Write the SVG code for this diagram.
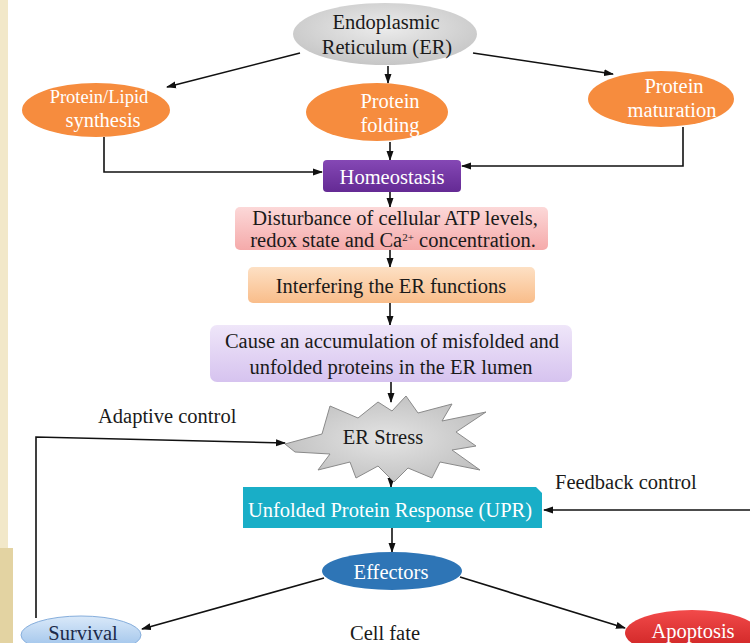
<svg xmlns="http://www.w3.org/2000/svg" width="750" height="643" viewBox="0 0 750 643">
<defs>
<radialGradient id="gGray" cx="0.5" cy="0.4" r="0.6"><stop offset="0" stop-color="#ececec"/><stop offset="1" stop-color="#c6c6c6"/></radialGradient>
<radialGradient id="gStar" cx="0.5" cy="0.5" r="0.6"><stop offset="0" stop-color="#e4e4e4"/><stop offset="1" stop-color="#bdbdbd"/></radialGradient>
<linearGradient id="gPurple" x1="0" y1="0" x2="0" y2="1"><stop offset="0" stop-color="#8548b5"/><stop offset="1" stop-color="#642a94"/></linearGradient>
<linearGradient id="gPink" x1="0" y1="0" x2="0" y2="1"><stop offset="0" stop-color="#fcd8d8"/><stop offset="1" stop-color="#f5aaaa"/></linearGradient>
<linearGradient id="gPeach" x1="0" y1="0" x2="0" y2="1"><stop offset="0" stop-color="#fde0c4"/><stop offset="1" stop-color="#f9bd8a"/></linearGradient>
<linearGradient id="gLav" x1="0" y1="0" x2="0" y2="1"><stop offset="0" stop-color="#efe6f9"/><stop offset="1" stop-color="#d6c3ef"/></linearGradient>
<linearGradient id="gSurv" x1="0" y1="0" x2="0" y2="1"><stop offset="0" stop-color="#dae9f9"/><stop offset="1" stop-color="#95bde8"/></linearGradient>
<linearGradient id="gApo" x1="0" y1="0" x2="0" y2="1"><stop offset="0" stop-color="#f24a4a"/><stop offset="1" stop-color="#c91f1f"/></linearGradient>
<marker id="arr" markerUnits="userSpaceOnUse" markerWidth="10" markerHeight="8" refX="9" refY="4" orient="auto"><path d="M0,0.5 L10,4 L0,7.5 z" fill="#111"/></marker>
<style>
.t{font-family:"Liberation Serif","Times New Roman",serif;font-size:20.5px;text-anchor:middle;fill:#1a1a1a}
.w{fill:#ffffff}
.l{text-anchor:start}
.c{fill:none;stroke:#111;stroke-width:1.6;marker-end:url(#arr)}
.o{fill:#f68c3e}
</style>
</defs>
<rect width="750" height="643" fill="#ffffff"/>
<rect x="0" y="0" width="8" height="643" fill="#f2e8c9"/>
<rect x="0" y="548" width="13" height="95" fill="#e3d3a2"/>

<g id="connectors">
<line class="c" x1="300" y1="53" x2="167" y2="87"/>
<line class="c" x1="473" y1="53" x2="613" y2="74"/>
<line class="c" x1="388" y1="66" x2="388" y2="83"/>
<polyline class="c" points="104,137 104,172 322,172"/>
<polyline class="c" points="683,127 683,166 462,166"/>
<line class="c" x1="390" y1="142" x2="390" y2="160"/>
<line class="c" x1="390" y1="192" x2="390" y2="207"/>
<line class="c" x1="390" y1="250" x2="390" y2="267"/>
<line class="c" x1="390" y1="303" x2="390" y2="325"/>
<line class="c" x1="391" y1="382" x2="391" y2="402"/>
<line class="c" x1="391" y1="474" x2="391" y2="487"/>
<line class="c" x1="392" y1="528" x2="392" y2="552"/>
<line class="c" x1="750" y1="510" x2="544" y2="510"/>
<line class="c" x1="324" y1="578" x2="142" y2="629"/>
<line class="c" x1="460" y1="577" x2="625" y2="628"/>
<polyline class="c" points="36,618 36,437 285,443"/>
</g>

<g id="er">
<ellipse cx="385" cy="34" rx="92" ry="31" fill="url(#gGray)"/>
<text class="t" x="386" y="29">Endoplasmic</text>
<text class="t" x="387" y="54">Reticulum (ER)</text>
</g>
<g id="synthesis">
<ellipse class="o" cx="96" cy="110" rx="74" ry="27"/>
<text class="t w" x="99" y="103" style="font-size:18.5px">Protein/Lipid</text>
<text class="t w" x="103" y="127">synthesis</text>
</g>
<g id="folding">
<ellipse class="o" cx="377" cy="112" rx="71" ry="29"/>
<text class="t w" x="390" y="108">Protein</text>
<text class="t w" x="390" y="132">folding</text>
</g>
<g id="maturation">
<ellipse class="o" cx="661" cy="99" rx="73" ry="28"/>
<text class="t w" x="674" y="93">Protein</text>
<text class="t w" x="672" y="117">maturation</text>
</g>
<g id="homeostasis">
<rect x="323" y="160" width="138" height="32" rx="4" fill="url(#gPurple)"/>
<text class="t w" x="392" y="184">Homeostasis</text>
</g>
<g id="disturbance">
<rect x="235" y="207" width="313" height="43" rx="5" fill="url(#gPink)"/>
<text class="t" x="395" y="225">Disturbance of cellular ATP levels,</text>
<text class="t" x="393" y="247">redox state and Ca<tspan font-size="11" dy="-6">2+</tspan><tspan dy="6"> concentration.</tspan></text>
</g>
<g id="interfering">
<rect x="248" y="267" width="287" height="36" rx="5" fill="url(#gPeach)"/>
<text class="t" x="391" y="293">Interfering the ER functions</text>
</g>
<g id="accumulation">
<rect x="210" y="325" width="362" height="57" rx="7" fill="url(#gLav)"/>
<text class="t" x="392" y="348">Cause an accumulation of misfolded and</text>
<text class="t" x="391" y="374">unfolded proteins in the ER lumen</text>
</g>
<g id="erstress">
<polygon points="285,444 322,434 330,406 358,418 378,402 392,411 406,396 418,413 452,404 442,421 486,412 456,432 476,446 452,450 480,470 440,462 432,478 408,468 394,482 378,466 356,478 350,462 318,470 330,454 295,452" fill="url(#gStar)" stroke="#8a8a8a" stroke-width="1"/>
<text class="t" x="383" y="444">ER Stress</text>
</g>
<g id="upr">
<polygon points="243,487 536,487 542,493 542,528 243,528" fill="#19aec7"/>
<text class="t w" x="390" y="517">Unfolded Protein Response (UPR)</text>
</g>
<g id="effectors">
<ellipse cx="392" cy="571" rx="70" ry="19" fill="#2e75b6"/>
<text class="t w" x="391" y="579">Effectors</text>
</g>
<g id="survival">
<ellipse cx="81" cy="635" rx="60" ry="19" fill="url(#gSurv)" stroke="#86aedc" stroke-width="1"/>
<text class="t" x="83" y="640" style="fill:#1c2a4a">Survival</text>
</g>
<g id="apoptosis">
<ellipse cx="692" cy="633" rx="67" ry="23" fill="url(#gApo)"/>
<text class="t w" x="693" y="638">Apoptosis</text>
</g>
<g id="labels">
<text class="t l" x="98" y="423">Adaptive control</text>
<text class="t l" x="555" y="489">Feedback control</text>
<text class="t" x="385" y="640">Cell fate</text>
</g>
</svg>
